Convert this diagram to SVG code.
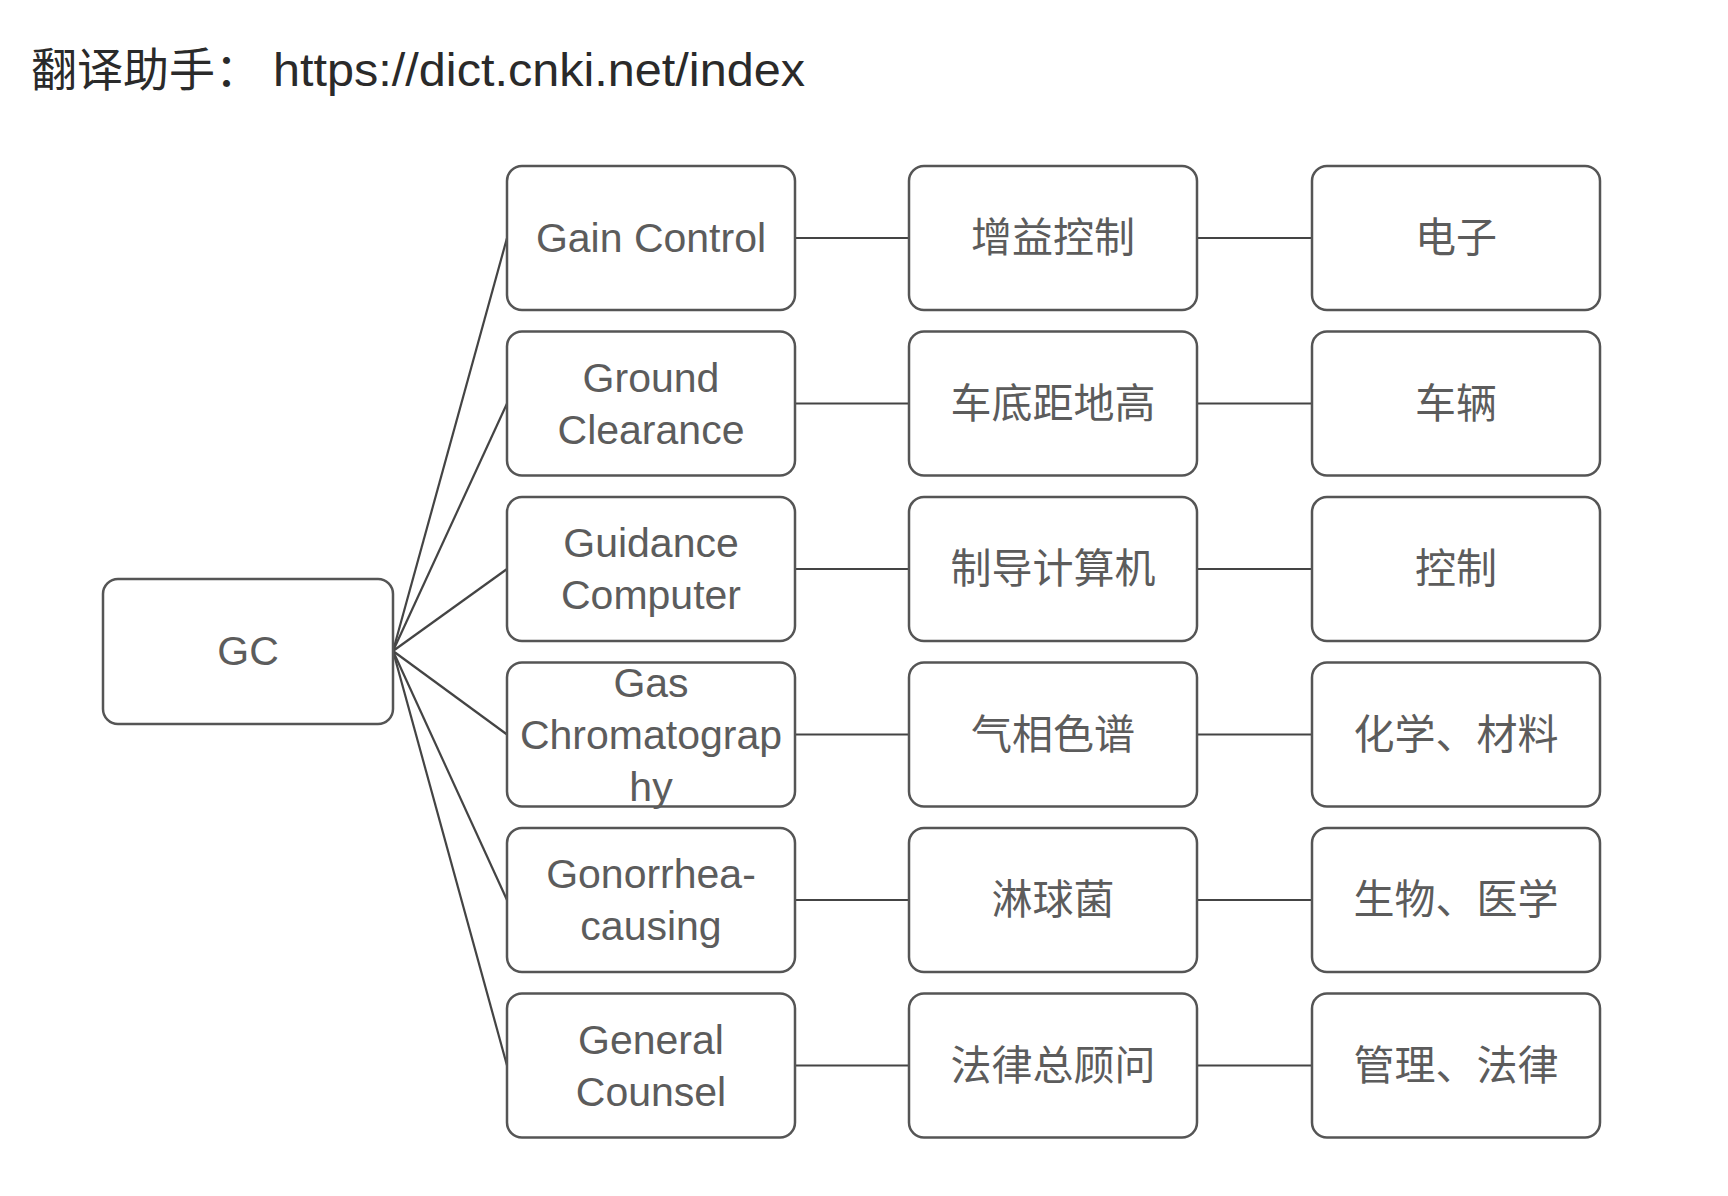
<svg xmlns="http://www.w3.org/2000/svg" width="1728" height="1196" viewBox="0 0 1728 1196">
<style>
.box{fill:#ffffff;stroke:#555555;stroke-width:2.5}
.lbl{font-family:"Liberation Sans","Noto Sans CJK SC",sans-serif;font-size:41px;fill:#5c5c5c;text-anchor:middle;dominant-baseline:central}
.cn{font-family:"Noto Sans CJK SC",sans-serif;font-size:41px;fill:#5c5c5c;text-anchor:middle;dominant-baseline:central}
.ln{stroke:#444444;stroke-width:2.2;fill:none}
.title{font-family:"Liberation Sans","Noto Sans CJK SC",sans-serif;font-size:46px;fill:#2a2a2a}
</style>
<rect width="1728" height="1196" fill="#ffffff"/>
<text class="title" y="86"><tspan x="31" font-family="Noto Sans CJK SC, sans-serif">翻译助手：</tspan><tspan x="273" textLength="532" lengthAdjust="spacingAndGlyphs">https://dict.cnki.net/index</tspan></text>
<g id="connectors">
<line class="ln" x1="393" y1="651" x2="507" y2="238"/>
<line class="ln" x1="393" y1="651" x2="507" y2="403.5"/>
<line class="ln" x1="393" y1="651" x2="507" y2="569"/>
<line class="ln" x1="393" y1="651" x2="507" y2="734.5"/>
<line class="ln" x1="393" y1="651" x2="507" y2="900"/>
<line class="ln" x1="393" y1="651" x2="507" y2="1065.5"/>
<line class="ln" x1="795" y1="238" x2="909" y2="238"/>
<line class="ln" x1="795" y1="403.5" x2="909" y2="403.5"/>
<line class="ln" x1="795" y1="569" x2="909" y2="569"/>
<line class="ln" x1="795" y1="734.5" x2="909" y2="734.5"/>
<line class="ln" x1="795" y1="900" x2="909" y2="900"/>
<line class="ln" x1="795" y1="1065.5" x2="909" y2="1065.5"/>
<line class="ln" x1="1197" y1="238" x2="1312" y2="238"/>
<line class="ln" x1="1197" y1="403.5" x2="1312" y2="403.5"/>
<line class="ln" x1="1197" y1="569" x2="1312" y2="569"/>
<line class="ln" x1="1197" y1="734.5" x2="1312" y2="734.5"/>
<line class="ln" x1="1197" y1="900" x2="1312" y2="900"/>
<line class="ln" x1="1197" y1="1065.5" x2="1312" y2="1065.5"/>
</g>
<g id="gc"><rect class="box" x="103" y="579" width="290" height="145" rx="15"/><text class="lbl" x="248" y="651">GC</text></g>
<g id="e1"><rect class="box" x="507" y="166" width="288" height="144" rx="15"/><text class="lbl" x="651" y="238">Gain Control</text></g>
<g id="e2"><rect class="box" x="507" y="331.5" width="288" height="144" rx="15"/><text class="lbl" x="651" y="377.5">Ground</text><text class="lbl" x="651" y="429.5">Clearance</text></g>
<g id="e3"><rect class="box" x="507" y="497" width="288" height="144" rx="15"/><text class="lbl" x="651" y="543">Guidance</text><text class="lbl" x="651" y="595">Computer</text></g>
<g id="e4"><rect class="box" x="507" y="662.5" width="288" height="144" rx="15"/><text class="lbl" x="651" y="682.5">Gas</text><text class="lbl" x="651" y="734.5">Chromatograp</text><text class="lbl" x="651" y="786.5">hy</text></g>
<g id="e5"><rect class="box" x="507" y="828" width="288" height="144" rx="15"/><text class="lbl" x="651" y="874">Gonorrhea-</text><text class="lbl" x="651" y="926">causing</text></g>
<g id="e6"><rect class="box" x="507" y="993.5" width="288" height="144" rx="15"/><text class="lbl" x="651" y="1039.5">General</text><text class="lbl" x="651" y="1091.5">Counsel</text></g>
<g id="c1"><rect class="box" x="909" y="166" width="288" height="144" rx="15"/><text class="cn" x="1053" y="234">增益控制</text></g>
<g id="c2"><rect class="box" x="909" y="331.5" width="288" height="144" rx="15"/><text class="cn" x="1053" y="399.5">车底距地高</text></g>
<g id="c3"><rect class="box" x="909" y="497" width="288" height="144" rx="15"/><text class="cn" x="1053" y="565">制导计算机</text></g>
<g id="c4"><rect class="box" x="909" y="662.5" width="288" height="144" rx="15"/><text class="cn" x="1053" y="730.5">气相色谱</text></g>
<g id="c5"><rect class="box" x="909" y="828" width="288" height="144" rx="15"/><text class="cn" x="1053" y="896">淋球菌</text></g>
<g id="c6"><rect class="box" x="909" y="993.5" width="288" height="144" rx="15"/><text class="cn" x="1053" y="1061.5">法律总顾问</text></g>
<g id="f1"><rect class="box" x="1312" y="166" width="288" height="144" rx="15"/><text class="cn" x="1456" y="234">电子</text></g>
<g id="f2"><rect class="box" x="1312" y="331.5" width="288" height="144" rx="15"/><text class="cn" x="1456" y="399.5">车辆</text></g>
<g id="f3"><rect class="box" x="1312" y="497" width="288" height="144" rx="15"/><text class="cn" x="1456" y="565">控制</text></g>
<g id="f4"><rect class="box" x="1312" y="662.5" width="288" height="144" rx="15"/><text class="cn" x="1456" y="730.5">化学、材料</text></g>
<g id="f5"><rect class="box" x="1312" y="828" width="288" height="144" rx="15"/><text class="cn" x="1456" y="896">生物、医学</text></g>
<g id="f6"><rect class="box" x="1312" y="993.5" width="288" height="144" rx="15"/><text class="cn" x="1456" y="1061.5">管理、法律</text></g>
</svg>
